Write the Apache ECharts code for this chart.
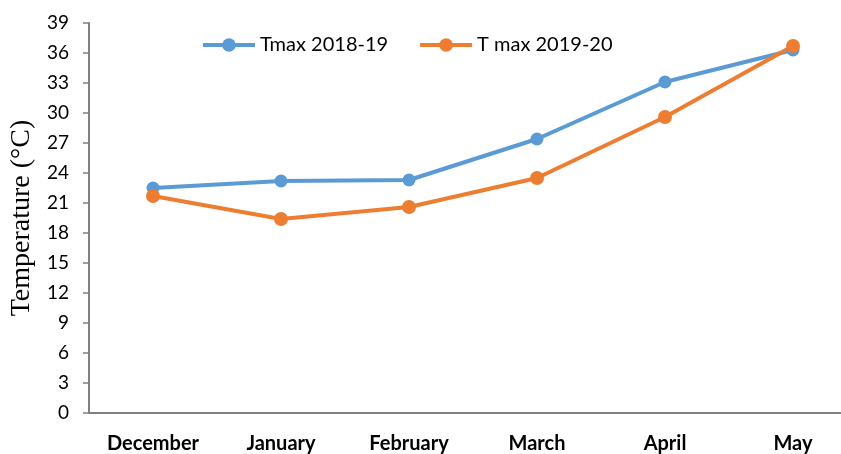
<!DOCTYPE html>
<html>
<head>
<meta charset="utf-8">
<script src="https://cdn.jsdelivr.net/npm/echarts@6/dist/echarts.min.js"></script>
<style>
	html, body { margin: 0; padding: 0; background: #fff; }
	#chart { width: 841px; height: 454px; }
</style>
</head>
<body>
<div id="chart"></div>
<script>
// 月份
const months = ['December', 'January', 'February', 'March', 'April', 'May']
// 两个年份的最高气温
const tmax1819 = [22.5, 23.2, 23.3, 27.4, 33.1, 36.3]
const tmax1920 = [21.7, 19.4, 20.6, 23.5, 29.6, 36.7]
const seriesNames = ['Tmax 2018-19', 'T max 2019-20']

const chart = echarts.init(document.getElementById('chart'))
chart.setOption({
	animation: false,
	color: ['#5B9BD5', '#ED7D31'],
	legend: {
		left: 196,
		top: 30,
		itemWidth: 52,
		itemHeight: 17,
		itemGap: 30,
		lineStyle: { width: 4 },
		textStyle: { fontFamily: 'Lato', fontSize: 20, color: '#000' },
		data: seriesNames
	},
	// 最右一格超出画面,用 width 撑出去
	grid: { left: 89, width: 768, top: 23, bottom: 41, outerBoundsMode: 'none', containLabel: false },
	xAxis: {
		type: 'category',
		data: months,
		axisLine: { lineStyle: { color: '#808080', width: 2 } },
		axisTick: { show: false },
		axisLabel: {
			margin: 21,
			fontFamily: 'Lato',
			fontWeight: 'bold',
			fontSize: 20,
			color: '#000'
		}
	},
	yAxis: {
		type: 'value',
		min: 0,
		max: 39,
		interval: 3,
		name: 'Temperature (°C)',
		nameLocation: 'middle',
		nameGap: 46,
		nameTextStyle: { fontFamily: 'Liberation Serif', fontSize: 28, color: '#000' },
		axisLine: { show: true, lineStyle: { color: '#808080', width: 2 } },
		axisTick: { show: true, length: 6, lineStyle: { color: '#808080', width: 1.5 } },
		axisLabel: { margin: 20, fontFamily: 'Lato', fontSize: 19, color: '#000' },
		splitLine: { show: false }
	},
	series: [
		{
			name: seriesNames[0],
			type: 'line',
			data: tmax1819,
			symbol: 'circle',
			symbolSize: 13,
			lineStyle: { width: 4 }
		},
		{
			name: seriesNames[1],
			type: 'line',
			data: tmax1920,
			symbol: 'circle',
			symbolSize: 14,
			lineStyle: { width: 4 }
		}
	]
})
</script>
</body>
</html>
